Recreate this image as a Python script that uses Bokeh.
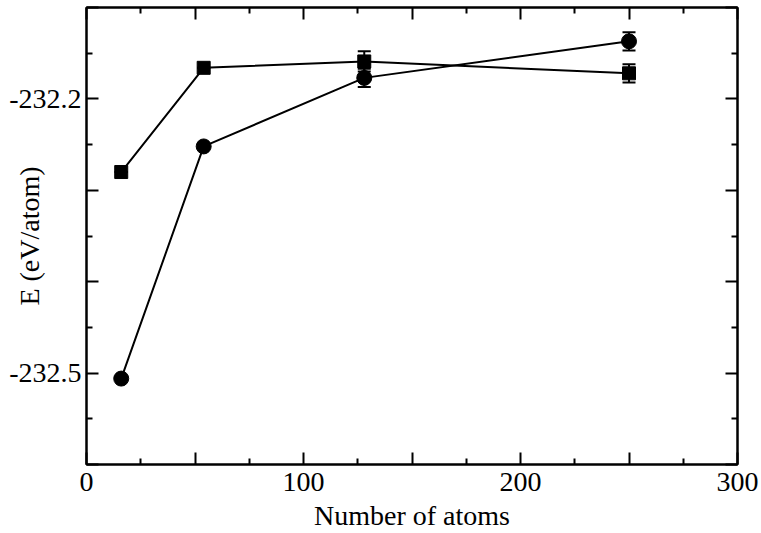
from bokeh.plotting import figure
from bokeh.models import LinearAxis, FixedTicker, Whisker, ColumnDataSource, TeeHead, Range1d
from bokeh.embed import file_html
from bokeh.resources import INLINE

# data
x_atoms = [16, 54, 128, 250]
e_circle = [-232.506, -232.252, -232.177, -232.137]
err_circle = [0.0, 0.0, 0.010, 0.010]
e_square = [-232.280, -232.166, -232.159, -232.172]
err_square = [0.0, 0.0, 0.011, 0.010]

x_major = [0, 50, 100, 150, 200, 250, 300]
x_minor = [25, 75, 125, 175, 225, 275]
x_labels = {0: "0", 50: "", 100: "100", 150: "", 200: "200", 250: "", 300: "300"}
y_major = [-232.6, -232.5, -232.4, -232.3, -232.2, -232.1]
y_minor = [-232.55, -232.45, -232.35, -232.25, -232.15]
y_labels = {-232.6: "", -232.5: "-232.5", -232.4: "", -232.3: "", -232.2: "-232.2", -232.1: ""}

FONT = "Liberation Serif"

p = figure(width=761, height=533, output_backend="svg", toolbar_location=None,
           x_range=Range1d(0, 300), y_range=Range1d(-232.6, -232.1),
           min_border_left=86, min_border_right=24, min_border_top=7, min_border_bottom=69,
           x_axis_location=None, y_axis_location=None)
p.background_fill_color = "white"
p.border_fill_color = "white"
p.outline_line_color = "black"
p.outline_line_width = 2
p.xgrid.visible = False
p.ygrid.visible = False


def style_axis(ax, ticker, labels, show_labels):
    ax.ticker = ticker
    ax.axis_line_color = "black"
    ax.axis_line_width = 2
    ax.major_tick_in = 12
    ax.major_tick_out = 0
    ax.minor_tick_in = 6
    ax.minor_tick_out = 0
    ax.major_tick_line_width = 2
    ax.minor_tick_line_width = 2
    ax.major_tick_line_color = "black"
    ax.minor_tick_line_color = "black"
    if show_labels:
        ax.major_label_overrides = labels
        ax.major_label_text_font = FONT
        ax.major_label_text_font_size = "28px"
        ax.major_label_text_color = "black"
    else:
        ax.major_label_overrides = {k: "" for k in labels}
        ax.major_label_text_font_size = "0px"
        ax.major_label_standoff = 0


xt = FixedTicker(ticks=x_major, minor_ticks=x_minor)
yt = FixedTicker(ticks=y_major, minor_ticks=y_minor)

xb = LinearAxis()
style_axis(xb, xt, x_labels, True)
xb.major_label_standoff = 8
xb.axis_label = "Number of atoms"
xb.axis_label_text_font = FONT
xb.axis_label_text_font_size = "28px"
xb.axis_label_text_font_style = "normal"
xb.axis_label_text_color = "black"
xb.axis_label_standoff = 6
p.add_layout(xb, "below")

yl = LinearAxis()
style_axis(yl, yt, y_labels, True)
yl.major_label_standoff = 5
yl.axis_label = "E (eV/atom)"
yl.axis_label_text_font = FONT
yl.axis_label_text_font_size = "28px"
yl.axis_label_text_font_style = "normal"
yl.axis_label_text_color = "black"
yl.axis_label_standoff = -39
p.add_layout(yl, "left")

xa = LinearAxis()
style_axis(xa, xt, x_labels, False)
p.add_layout(xa, "above")

yr = LinearAxis()
style_axis(yr, yt, y_labels, False)
p.add_layout(yr, "right")

src_c = ColumnDataSource(dict(x=x_atoms, y=e_circle,
                              lo=[a - b for a, b in zip(e_circle, err_circle)],
                              hi=[a + b for a, b in zip(e_circle, err_circle)]))
src_s = ColumnDataSource(dict(x=x_atoms, y=e_square,
                              lo=[a - b for a, b in zip(e_square, err_square)],
                              hi=[a + b for a, b in zip(e_square, err_square)]))

for src in (src_c, src_s):
    w = Whisker(base="x", lower="lo", upper="hi", source=src, line_color="black", line_width=2,
                upper_head=TeeHead(size=13, line_width=2, line_color="black"),
                lower_head=TeeHead(size=13, line_width=2, line_color="black"))
    p.add_layout(w)

p.line("x", "y", source=src_s, line_color="black", line_width=2)
p.line("x", "y", source=src_c, line_color="black", line_width=2)
p.scatter("x", "y", source=src_s, marker="square", size=13, fill_color="black", line_color="black")
p.scatter("x", "y", source=src_c, marker="circle", size=15, fill_color="black", line_color="black")

open("out.html", "w").write(file_html(p, INLINE))
